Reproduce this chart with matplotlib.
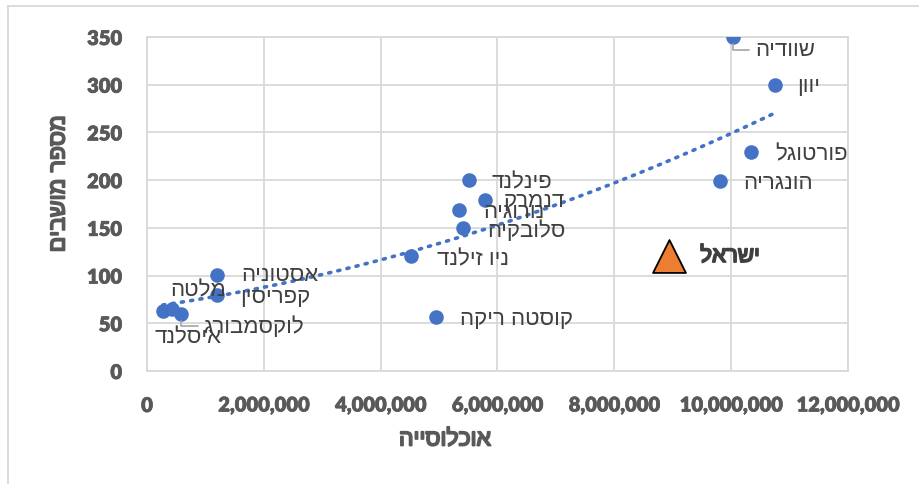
import numpy as np
import matplotlib
matplotlib.use("Agg")
import matplotlib.pyplot as plt
import matplotlib.patheffects as pe
from matplotlib.lines import Line2D
from matplotlib.ticker import FuncFormatter

# ---- data ----
countries = ["שוודיה", "יוון", "פורטוגל", "הונגריה", "פינלנד", "דנמרק", "נורוגיה",
             "סלובקיה", "ניו זילנד", "קוסטה ריקה", "אסטוניה", "קפריסין", "מלטה",
             "לוקסמבורג", "איסלנד"]
population = [10.03e6, 10.75e6, 10.34e6, 9.81e6, 5.51e6, 5.79e6, 5.34e6,
              5.41e6, 4.52e6, 4.95e6, 1.2e6, 1.2e6, 0.43e6, 0.59e6, 0.27e6]
seats = [350, 300, 230, 199, 200, 179, 169, 150, 120, 57, 101, 80, 65, 60, 63]

israel_name = "ישראל"
israel_population = [8.94e6]
israel_seats = [120]

x_ticks = [0, 2e6, 4e6, 6e6, 8e6, 10e6, 12e6]
y_ticks = [0, 50, 100, 150, 200, 250, 300, 350]
x_title = "אוכלוסייה"
y_title = "מספר מושבים"

# label offsets in pixels (dx, dy)
offsets = {"שוודיה": (22, -13), "יוון": (22, -1), "פורטוגל": (24, -2), "הונגריה": (23, -1),
           "פינלנד": (23, -2), "דנמרק": (18, 0), "נורוגיה": (24, -2), "סלובקיה": (24, -2),
           "ניו זילנד": (26, -2), "קוסטה ריקה": (24, -2), "אסטוניה": (24, 0),
           "קפריסין": (23, -2), "מלטה": (-2, 19), "לוקסמבורג": (22, -12), "איסלנד": (-8, -26)}
leaders = {"שוודיה", "לוקסמבורג"}


def rtl(s):
    return s[::-1]


HEB = ["Liberation Sans", "DejaVu Sans"]
NUM = ["Lato", "DejaVu Sans"]
GRID = "#d9d9d9"
BLUE = "#4472C4"


def boldfx(color, w=1.1):
    return [pe.withStroke(linewidth=w, foreground=color)]


fig = plt.figure(figsize=(9.2, 4.85), dpi=100)
ax = fig.add_axes([147 / 920, 113 / 485, 701 / 920, 334 / 485])

ax.set_xlim(0, 12e6)
ax.set_ylim(0, 350)
ax.set_xticks(x_ticks)
ax.set_yticks(y_ticks)
ax.xaxis.set_major_formatter(FuncFormatter(lambda v, p: f"{int(v):,}"))
ax.grid(True, color=GRID, lw=1.3)
ax.set_axisbelow(True)
for s in ax.spines.values():
    s.set_color(GRID)
    s.set_linewidth(1.3)
ax.tick_params(length=0, pad=18, labelcolor="#595959")
for lab in ax.get_xticklabels() + ax.get_yticklabels():
    lab.set_family(NUM)
    lab.set_fontweight("heavy")
    lab.set_fontsize(14.5)
    lab.set_path_effects(boldfx("#595959", 0.5))

# trendline: quadratic fit over all points (Israel included)
all_x = population + israel_population
all_y = seats + israel_seats
coef = np.polyfit(all_x, all_y, 2)
xs = np.linspace(min(all_x), max(all_x), 200)
ax.plot(xs, np.polyval(coef, xs), color=BLUE, lw=2.6, ls=(0, (0.6, 2.0)),
        dash_capstyle="round", zorder=2)

ax.scatter(population, seats, s=110, color=BLUE, zorder=3, linewidths=0)
ax.scatter(israel_population, israel_seats, marker="^", s=560, color="#ED7D31",
           edgecolors="black", linewidths=1.3, zorder=3)

for name, xv, yv in zip(countries, population, seats):
    dx, dy = offsets[name]
    kw = {}
    if name in leaders:
        kw["arrowprops"] = dict(arrowstyle="-", color="#a6a6a6", lw=1.2,
                                connectionstyle="angle,angleA=0,angleB=90,rad=0",
                                shrinkA=2, shrinkB=5)
    ax.annotate(rtl(name), (xv, yv), xytext=(dx, dy), textcoords="offset pixels",
                ha="left", va="center", fontsize=16, color="#404040", family=HEB,
                zorder=4, **kw)

ax.annotate(rtl(israel_name), (israel_population[0], israel_seats[0]), xytext=(31, 0),
            textcoords="offset pixels", ha="left", va="center", fontsize=16,
            color="#404040", family=HEB, path_effects=boldfx("#404040", 1.3))

fig.text(445 / 920, 1 - 440 / 485, rtl(x_title), ha="center", va="center",
         fontsize=16.5, color="#595959", family=HEB, path_effects=boldfx("#595959", 1.3))
fig.text(58 / 920, 1 - 185 / 485, rtl(y_title), ha="center", va="center", rotation=90,
         fontsize=16.5, color="#595959", family=HEB, path_effects=boldfx("#595959", 1.3))

# chart border
fig.add_artist(Line2D([8 / 920, 8 / 920], [0, 1 - 7 / 485], color=GRID, lw=1.3))
fig.add_artist(Line2D([8 / 920, 1], [1 - 7 / 485, 1 - 7 / 485], color=GRID, lw=1.3))

fig.savefig("out.png", dpi=100, facecolor="white")
